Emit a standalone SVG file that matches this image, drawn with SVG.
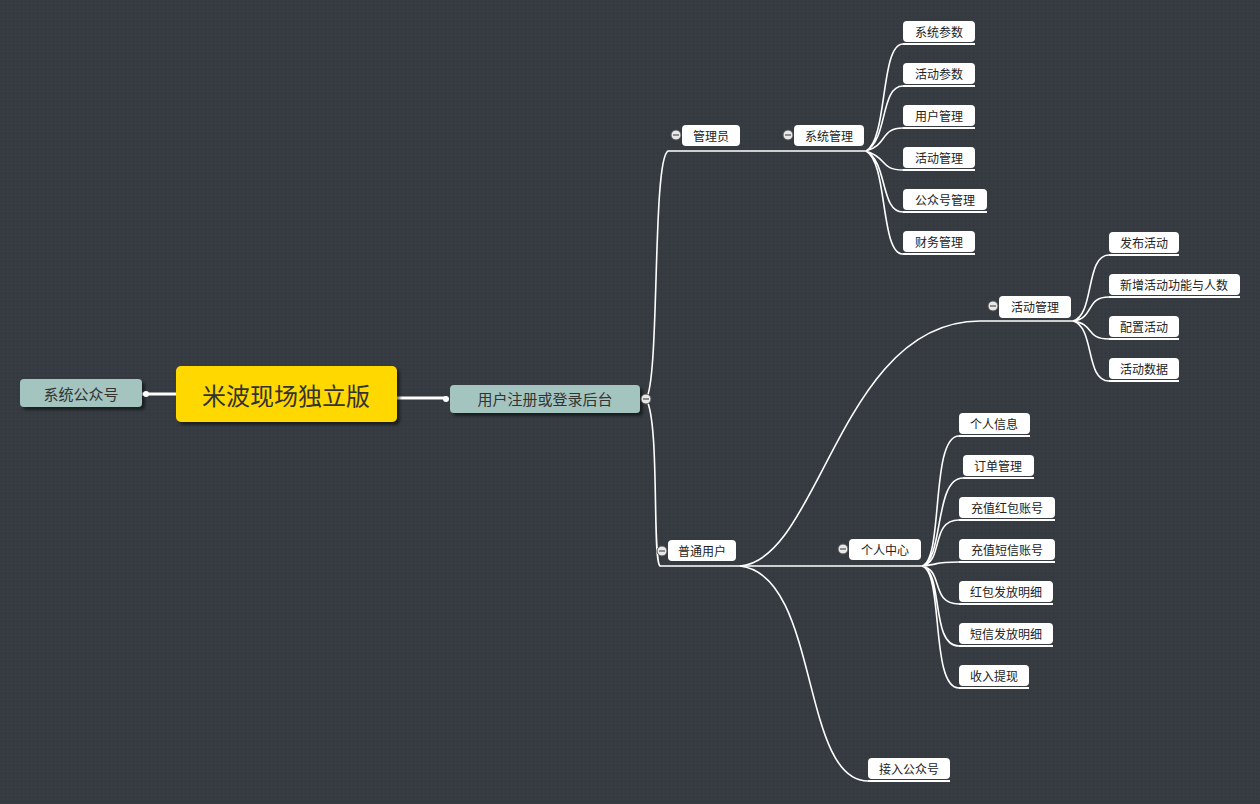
<svg xmlns="http://www.w3.org/2000/svg" width="1260" height="804" viewBox="0 0 1260 804">
<defs>
<pattern id="dots" width="4" height="4" patternUnits="userSpaceOnUse"><rect width="4" height="4" fill="#363c41"/><rect x="1" y="1" width="1" height="1" fill="#2c3135"/></pattern>
<filter id="sh" x="-10%" y="-20%" width="130%" height="150%"><feDropShadow dx="3" dy="3" stdDeviation="1.5" flood-color="#000" flood-opacity="0.5"/></filter>
</defs>
<style>
text{font-family:"Noto Sans CJK SC","Noto Sans",sans-serif;text-anchor:middle;dominant-baseline:central}
.leaf rect{fill:#fff}
.leaf text{font-size:12px;fill:#222}
.ul{stroke:#fff;stroke-width:2;fill:none}
.c path{stroke:#fff;stroke-width:1.6;fill:none}
.c path.thick{stroke-width:3}
.col{fill:#e8e8e8;stroke:#555;stroke-width:1}
.teal{fill:#a3c4bf}
</style>
<rect width="1260" height="804" fill="url(#dots)"/>
<g class="c">
<path class="thick" d="M142,394 H176"/>
<path class="thick" d="M397,398 H446"/>
<path d="M646,399 C660,380 652,160 668,151 H740 L866,151"/>
<path d="M646,399 C660,420 652,560 660,566 H740"/>
<path d="M866,151 C888,140 880,44 903,44 M866,151 C888,140 880,86 903,86 M866,151 C888,145 880,128 903,128 M866,151 C888,158 880,170 903,170 M866,151 C888,162 880,212 903,212 M866,151 C888,162 880,254 903,254"/>
<path d="M740,566 C820,560 840,321 980,321 H1073"/>
<path d="M1073,321 C1095,315 1085,255 1109,255 M1073,321 C1095,318 1085,297 1109,297 M1073,321 C1095,324 1085,339 1109,339 M1073,321 C1095,327 1085,381 1109,381"/>
<path d="M740,566 H922"/>
<path d="M922,566 C944,560 930,436 959,436 M922,566 C944,560 934,478 963,478 M922,566 C944,562 930,520 959,520 M922,566 C944,564 930,562 959,562 M922,566 C944,570 930,604 959,604 M922,566 C944,572 930,646 959,646 M922,566 C944,572 930,688 959,688"/>
<path d="M740,566 C820,575 800,781 868,781"/>
</g>
<g id="gzh"><rect class="teal" x="20" y="379" width="122" height="28" rx="4" filter="url(#sh)"/><text x="81" y="393" font-size="15" fill="#333">系统公众号</text><circle cx="146" cy="394" r="3" fill="#fff"/></g>
<g id="root"><rect x="176" y="366" width="221" height="56" rx="5" fill="#ffd800" filter="url(#sh)"/><text x="286" y="394" font-size="24" fill="#333">米波现场独立版</text></g>
<g id="login"><rect class="teal" x="450" y="385" width="190" height="28" rx="4" filter="url(#sh)"/><text x="545" y="398" font-size="15" fill="#333">用户注册或登录后台</text><circle cx="446" cy="399" r="3" fill="#fff"/><circle class="col" cx="646" cy="399" r="5"/><line x1="643" y1="399" x2="649" y2="399" stroke="#333"/></g>
<g id="admin" class="leaf"><rect x="682" y="125" width="58" height="21" rx="4"/><text x="711" y="135">管理员</text><circle class="col" cx="676" cy="135" r="5"/><line x1="673" y1="135" x2="679" y2="135" stroke="#333"/></g>
<g id="sys" class="leaf"><rect x="794" y="125" width="70" height="21" rx="4"/><text x="829" y="135">系统管理</text><circle class="col" cx="788" cy="135" r="5"/><line x1="785" y1="135" x2="791" y2="135" stroke="#333"/></g>
<g id="s1" class="leaf"><rect x="903" y="21" width="72" height="21" rx="4"/><text x="939" y="31">系统参数</text><path class="ul" d="M903,44 H975"/></g>
<g id="s2" class="leaf"><rect x="903" y="63" width="72" height="21" rx="4"/><text x="939" y="73">活动参数</text><path class="ul" d="M903,86 H975"/></g>
<g id="s3" class="leaf"><rect x="903" y="105" width="72" height="21" rx="4"/><text x="939" y="115">用户管理</text><path class="ul" d="M903,128 H975"/></g>
<g id="s4" class="leaf"><rect x="903" y="147" width="72" height="21" rx="4"/><text x="939" y="157">活动管理</text><path class="ul" d="M903,170 H975"/></g>
<g id="s5" class="leaf"><rect x="903" y="189" width="84" height="21" rx="4"/><text x="945" y="199">公众号管理</text><path class="ul" d="M903,212 H987"/></g>
<g id="s6" class="leaf"><rect x="903" y="231" width="72" height="21" rx="4"/><text x="939" y="241">财务管理</text><path class="ul" d="M903,254 H975"/></g>
<g id="user" class="leaf"><rect x="668" y="540" width="68" height="21" rx="4"/><text x="702" y="550">普通用户</text><circle class="col" cx="662" cy="551" r="5"/><line x1="659" y1="551" x2="665" y2="551" stroke="#333"/></g>
<g id="act" class="leaf"><rect x="999" y="296" width="72" height="22" rx="4"/><text x="1035" y="306">活动管理</text><circle class="col" cx="993" cy="306" r="5"/><line x1="990" y1="306" x2="996" y2="306" stroke="#333"/></g>
<g id="a1" class="leaf"><rect x="1109" y="232" width="70" height="21" rx="4"/><text x="1144" y="242">发布活动</text><path class="ul" d="M1109,255 H1179"/></g>
<g id="a2" class="leaf"><rect x="1109" y="274" width="131" height="21" rx="4"/><text x="1174" y="284">新增活动功能与人数</text><path class="ul" d="M1109,297 H1240"/></g>
<g id="a3" class="leaf"><rect x="1109" y="316" width="70" height="21" rx="4"/><text x="1144" y="326">配置活动</text><path class="ul" d="M1109,339 H1179"/></g>
<g id="a4" class="leaf"><rect x="1109" y="358" width="70" height="21" rx="4"/><text x="1144" y="368">活动数据</text><path class="ul" d="M1109,381 H1179"/></g>
<g id="center" class="leaf"><rect x="849" y="539" width="72" height="21" rx="4"/><text x="885" y="549">个人中心</text><circle class="col" cx="843" cy="549" r="5"/><line x1="840" y1="549" x2="846" y2="549" stroke="#333"/></g>
<g id="p1" class="leaf"><rect x="959" y="413" width="71" height="21" rx="4"/><text x="994" y="423">个人信息</text><path class="ul" d="M959,436 H1030"/></g>
<g id="p2" class="leaf"><rect x="963" y="455" width="71" height="21" rx="4"/><text x="998" y="465">订单管理</text><path class="ul" d="M963,478 H1034"/></g>
<g id="p3" class="leaf"><rect x="959" y="497" width="96" height="21" rx="4"/><text x="1007" y="507">充值红包账号</text><path class="ul" d="M959,520 H1055"/></g>
<g id="p4" class="leaf"><rect x="959" y="539" width="96" height="21" rx="4"/><text x="1007" y="549">充值短信账号</text><path class="ul" d="M959,562 H1055"/></g>
<g id="p5" class="leaf"><rect x="959" y="581" width="94" height="21" rx="4"/><text x="1006" y="591">红包发放明细</text><path class="ul" d="M959,604 H1053"/></g>
<g id="p6" class="leaf"><rect x="959" y="623" width="94" height="21" rx="4"/><text x="1006" y="633">短信发放明细</text><path class="ul" d="M959,646 H1053"/></g>
<g id="p7" class="leaf"><rect x="959" y="665" width="70" height="21" rx="4"/><text x="994" y="675">收入提现</text><path class="ul" d="M959,688 H1029"/></g>
<g id="wx" class="leaf"><rect x="868" y="758" width="82" height="21" rx="4"/><text x="909" y="768">接入公众号</text><path class="ul" d="M868,781 H950"/></g>
</svg>
